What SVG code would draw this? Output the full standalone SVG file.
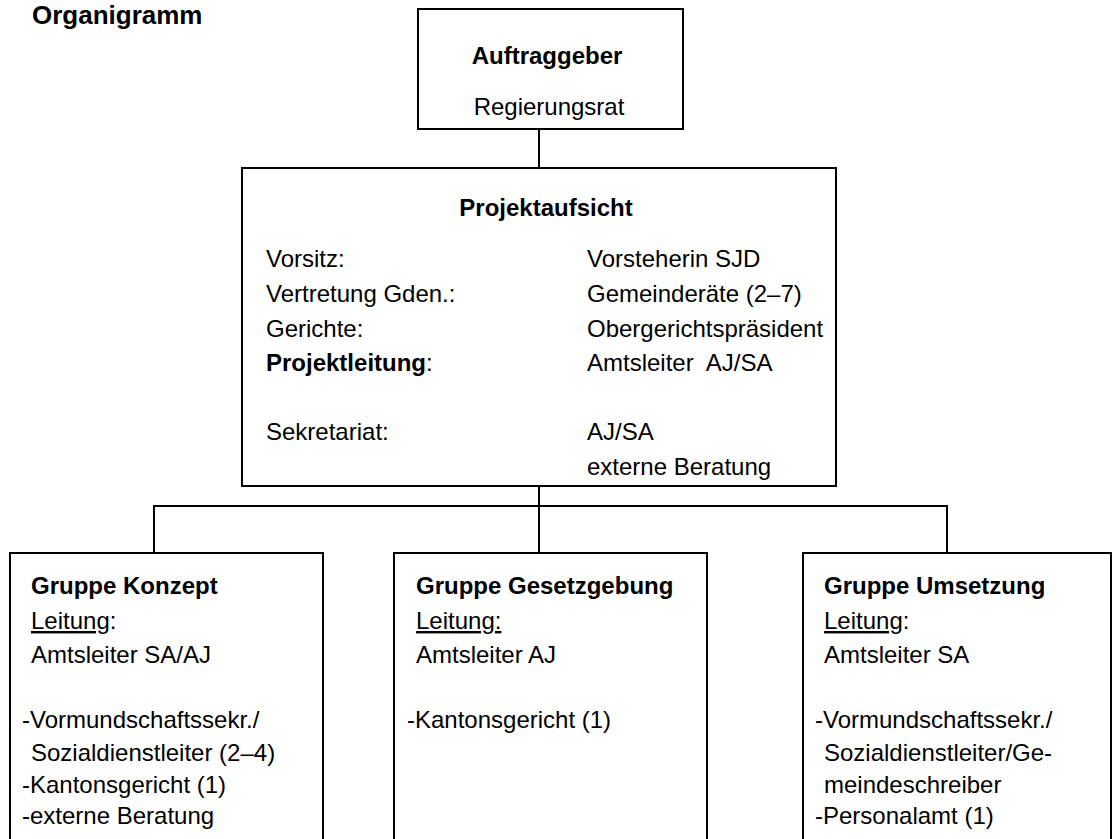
<svg xmlns="http://www.w3.org/2000/svg" width="1113" height="839" viewBox="0 0 1113 839">
<style>
.box{fill:#fff;stroke:#000;stroke-width:2}
.con{fill:none;stroke:#000;stroke-width:2}
text{font-family:"Liberation Sans",Arial,sans-serif;font-size:24px;fill:#000}
.b{font-weight:bold}
.u{text-decoration:underline}
</style>
<rect width="1113" height="839" fill="#fff"/>
<text id="title" class="b" x="32" y="24" style="font-size:26px">Organigramm</text>
<g id="connectors">
<line class="con" x1="539" y1="129" x2="539" y2="168"/>
<line class="con" x1="539" y1="486" x2="539" y2="553"/>
<polyline class="con" points="154,553 154,506 947,506 947,553"/>
</g>
<g id="auftraggeber">
<rect class="box" x="418" y="9" width="265" height="120"/>
<text class="b" x="547" y="64" text-anchor="middle">Auftraggeber</text>
<text x="549" y="115" text-anchor="middle">Regierungsrat</text>
</g>
<g id="projektaufsicht">
<rect class="box" x="242" y="168" width="594" height="318"/>
<text class="b" x="546" y="216" text-anchor="middle">Projektaufsicht</text>
<text x="266" y="267">Vorsitz:</text>
<text x="587" y="267">Vorsteherin SJD</text>
<text x="266" y="302">Vertretung Gden.:</text>
<text x="587" y="302">Gemeinderäte (2–7)</text>
<text x="266" y="337">Gerichte:</text>
<text x="587" y="337">Obergerichtspräsident</text>
<text x="266" y="371"><tspan class="b">Projektleitung</tspan>:</text>
<text x="587" y="371" xml:space="preserve">Amtsleiter  AJ/SA</text>
<text x="266" y="440">Sekretariat:</text>
<text x="587" y="440">AJ/SA</text>
<text x="587" y="475">externe Beratung</text>
</g>
<g id="gruppe-konzept">
<rect class="box" x="10" y="553" width="313" height="310"/>
<text class="b" x="31" y="594">Gruppe Konzept</text>
<text x="31" y="629"><tspan class="u">Leitung</tspan>:</text>
<text x="31" y="663">Amtsleiter SA/AJ</text>
<text x="22" y="728">-Vormundschaftssekr./</text>
<text x="31" y="761">Sozialdienstleiter (2–4)</text>
<text x="22" y="793">-Kantonsgericht (1)</text>
<text x="22" y="824">-externe Beratung</text>
</g>
<g id="gruppe-gesetzgebung">
<rect class="box" x="394" y="553" width="313" height="310"/>
<text class="b" x="416" y="594">Gruppe Gesetzgebung</text>
<text x="416" y="629"><tspan class="u">Leitung:</tspan></text>
<text x="416" y="663">Amtsleiter AJ</text>
<text x="407" y="728">-Kantonsgericht (1)</text>
</g>
<g id="gruppe-umsetzung">
<rect class="box" x="803" y="553" width="308" height="310"/>
<text class="b" x="824" y="594">Gruppe Umsetzung</text>
<text x="824" y="629"><tspan class="u">Leitung</tspan>:</text>
<text x="824" y="663">Amtsleiter SA</text>
<text x="815" y="728">-Vormundschaftssekr./</text>
<text x="824" y="761">Sozialdienstleiter/Ge-</text>
<text x="824" y="793">meindeschreiber</text>
<text x="815" y="824">-Personalamt (1)</text>
</g>
</svg>
